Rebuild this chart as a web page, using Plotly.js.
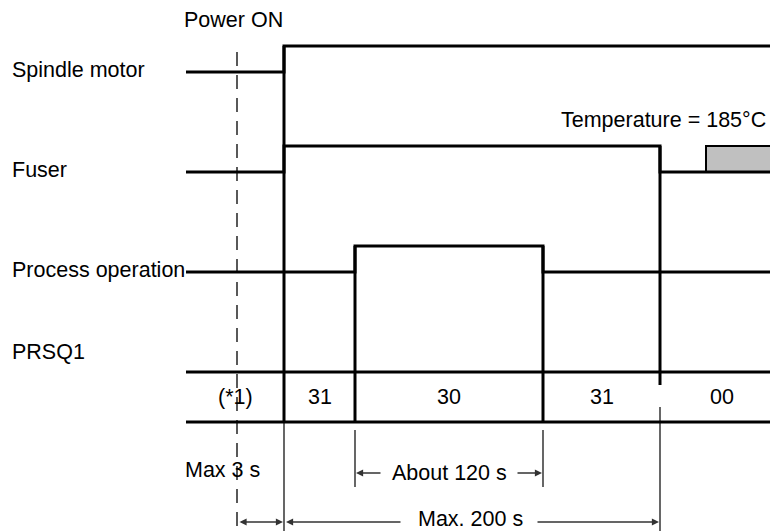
<!DOCTYPE html>
<html><head><meta charset="utf-8">
<script src="https://cdn.plot.ly/plotly-3.0.1.min.js"></script>
<style>html,body{margin:0;padding:0;background:#fff}#chart{width:770px;height:531px}</style>
</head><body><div id="chart"></div>
<script>
// ---- data (schematic time units along x, signal rows along y) ----
const signalNames = ['Spindle motor', 'Fuser', 'Process operation'];
const spindleT = [186, 284, 284, 784];
const spindleLevel = [0, 0, 1, 1];
const fuserT = [186, 284, 284, 660, 660, 784];
const fuserLevel = [0, 0, 1, 1, 0, 0];
const processT = [186, 355, 355, 543, 543, 784];
const processLevel = [0, 0, 1, 1, 0, 0];

const markerT = 237;          // (*1) dashed marker
const powerOnT = 284;
const processOnT = 355;
const processOffT = 543;
const fuserReadyT = 660;
const tempReachedT = 706;

const prsqName = 'PRSQ1';
const prsqBounds = [186, 284, 355, 543, 660, 784];
const prsqCodes = ['(*1)', '31', '30', '31', '00'];

const durationLabels = ['Max 3 s', 'About 120 s', 'Max. 200 s'];
const durationFrom = [237, 355, 284];
const durationTo = [284, 543, 660];

const powerLabel = 'Power ON';
const tempLabel = 'Temperature = 185\u00B0C';

// ---- helpers ----
const HIGH = 0.26;            // step height in row units
const rowY = (k, lvl) => k - HIGH * lvl;
const PRSQ_TOP = 3, PRSQ_BOT = 3.5;
const FONT = {family: 'Liberation Sans, Arial, sans-serif', size: 21.5, color: '#000'};
const thick = {color: '#000', width: 3};
const thin = {color: '#000', width: 1.2};

const traces = [];
function step(t, lv, k) {
  traces.push({x: t, y: lv.map(v => rowY(k, v)), mode: 'lines', line: thick,
    hoverinfo: 'skip', showlegend: false, type: 'scatter'});
}
step(spindleT, spindleLevel, 0);
step(fuserT, fuserLevel, 1);
step(processT, processLevel, 2);

// PRSQ1 row borders
traces.push({x: [prsqBounds[0], prsqBounds[prsqBounds.length-1], null, prsqBounds[0], prsqBounds[prsqBounds.length-1]],
  y: [PRSQ_TOP, PRSQ_TOP, null, PRSQ_BOT, PRSQ_BOT], mode: 'lines', line: thick, hoverinfo: 'skip', showlegend: false});

// thick verticals through rows
const vx = [], vy = [];
function seg(arrx, arry, t, y0, y1) { arrx.push(t, t, null); arry.push(y0, y1, null); }
seg(vx, vy, powerOnT, rowY(0, 1), PRSQ_BOT);
seg(vx, vy, processOnT, rowY(2, 1), PRSQ_BOT);
seg(vx, vy, processOffT, rowY(2, 1), PRSQ_BOT);
seg(vx, vy, fuserReadyT, rowY(1, 1), 3.13);
traces.push({x: vx, y: vy, mode: 'lines', line: thick, hoverinfo: 'skip', showlegend: false});

// thin extension lines
const tx = [], ty = [];
seg(tx, ty, powerOnT, PRSQ_BOT, 4.8);
seg(tx, ty, processOnT, 3.58, 4.15);
seg(tx, ty, processOffT, 3.58, 4.15);
seg(tx, ty, fuserReadyT, 3.35, 4.8);
traces.push({x: tx, y: ty, mode: 'lines', line: thin, hoverinfo: 'skip', showlegend: false});

// dashed marker
traces.push({x: [markerT, markerT], y: [-0.2, 4.8], mode: 'lines',
  line: {color: '#000', width: 1.3, dash: '14px,9px'}, hoverinfo: 'skip', showlegend: false});

// ---- annotations ----
const ann = [];
function txt(x, y, s, xa) { ann.push({x, y, text: s, showarrow: false, xanchor: xa || 'center', yanchor: 'middle', font: FONT}); }
txt(10, rowY(0, 0) - 0.02, signalNames[0], 'left');
txt(10, rowY(1, 0) - 0.02, signalNames[1], 'left');
txt(10, rowY(2, 0) - 0.02, signalNames[2], 'left');
txt(10, 2.8, prsqName, 'left');
txt(powerOnT + 1, -0.52, powerLabel, 'right');
txt(768, 0.48, tempLabel, 'right');
for (let i = 0; i < prsqCodes.length; i++) {
  txt((prsqBounds[i] + prsqBounds[i+1]) / 2, (PRSQ_TOP + PRSQ_BOT) / 2, prsqCodes[i]);
}
txt(durationTo[0] - 62, 3.98, durationLabels[0]);
txt((durationFrom[1] + durationTo[1]) / 2, 4.01, durationLabels[1]);
txt((durationFrom[2] + durationTo[2]) / 2 - 2, 4.47, durationLabels[2]);

const ARW = {showarrow: true, text: '', arrowhead: 2, arrowsize: 1.1, arrowwidth: 1.3,
  arrowcolor: '#333', axref: 'x', ayref: 'y', standoff: 0, startstandoff: 0};
function arrow(hx, tx_, y, extra) { ann.push(Object.assign({}, ARW, {x: hx, y, ax: tx_, ay: y}, extra || {})); }
// About 120 s
arrow(durationFrom[1] + 1, durationFrom[1] + 27, 4.01);
arrow(durationTo[1] - 1, durationTo[1] - 27, 4.01);
// Max 3 s (double)
arrow(durationTo[0] - 1, durationFrom[0] + 1, 4.5, {arrowside: 'end+start'});
// Max 200 s
arrow(durationFrom[2] + 2, durationFrom[2] + 118, 4.5);
arrow(durationTo[2] - 1, durationTo[2] - 124, 4.5);

const shapes = [{type: 'rect', xref: 'x', yref: 'y', x0: tempReachedT, x1: 800,
  y0: rowY(1, 1), y1: rowY(1, 0), fillcolor: '#c0c0c0', line: {color: '#000', width: 2}, layer: 'below'}];

const axisOff = {visible: false, showgrid: false, zeroline: false, fixedrange: true};
const layout = {
  width: 770, height: 531,
  margin: {l: 0, r: 0, t: 0, b: 0},
  paper_bgcolor: '#fff', plot_bgcolor: '#fff',
  xaxis: Object.assign({range: [0, 770]}, axisOff),
  yaxis: Object.assign({range: [4.59, -0.72]}, axisOff),
  annotations: ann, shapes: shapes, showlegend: false
};
Plotly.newPlot('chart', traces, layout, {staticPlot: true, displayModeBar: false});
</script></body></html>
